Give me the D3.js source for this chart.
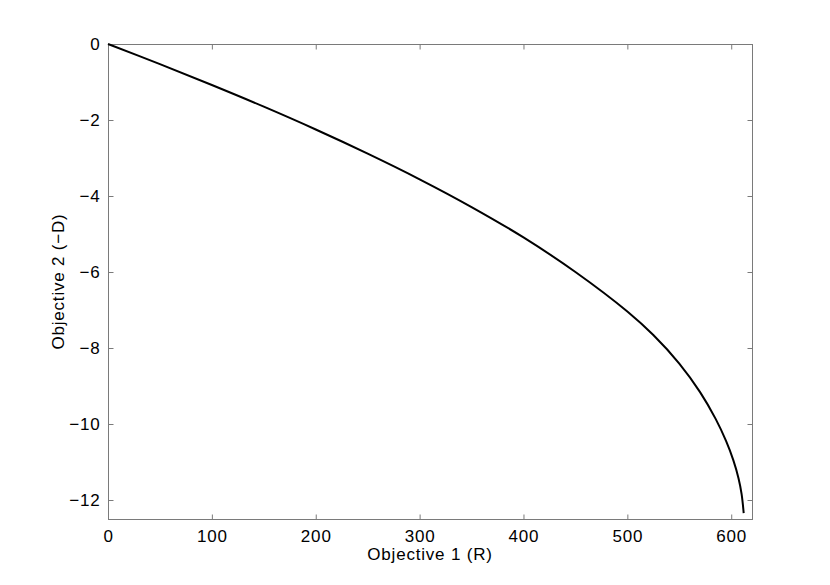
<!DOCTYPE html>
<html>
<head>
<meta charset="utf-8">
<script src="https://cdn.jsdelivr.net/npm/d3@7"></script>
<style>
  body { margin: 0; background: #fff; }
  text { font-family: "Liberation Sans", Arial, sans-serif; }
</style>
</head>
<body>
<svg id="chart" width="830" height="585"></svg>
<script>
// Front de Pareto : Objective 1 (R) contre Objective 2 (-D)
const objR = [0, 50, 100, 150, 200, 250, 300, 350, 400, 450, 500, 525, 550, 570, 585, 595, 602, 607, 610, 612]
const objD = [0, -0.53, -1.08, -1.65, -2.25, -2.885, -3.56, -4.29, -5.09, -6.0, -7.04, -7.66, -8.41, -9.16, -9.865, -10.445, -10.95, -11.425, -11.845, -12.345]
const xTicks = [0, 100, 200, 300, 400, 500, 600]
const yTicks = [0, -2, -4, -6, -8, -10, -12]

const LARGEUR = 830
const HAUTEUR = 585
const marge = { left: 108, right: 830 - 752, top: 44, bottom: 585 - 519 }
const COULEUR_AXE = '#7a7a7a'
const TAILLE_POLICE = 17
const ESPACEMENT = '0.8px'
const LONGUEUR_TICK = 5

const svg = d3.select('#chart')

const x = d3.scaleLinear().domain([0, 620]).range([marge.left, LARGEUR - marge.right])
const y = d3.scaleLinear().domain([-12.5, 0]).range([HAUTEUR - marge.bottom, marge.top])

//Cadre
svg.append('rect')
    .attr('x', x(0) + 0.5).attr('y', y(0) + 0.5)
    .attr('width', x(620) - x(0)).attr('height', y(-12.5) - y(0))
    .attr('fill', 'none').attr('stroke', COULEUR_AXE)

//Axes avec ticks vers l'intérieur, sur les quatre côtés
function styleAxe(g) {
    g.select('.domain').remove()
    g.selectAll('.tick line').attr('stroke', COULEUR_AXE)
    g.selectAll('.tick text').attr('fill', 'black').style('font-size', TAILLE_POLICE + 'px')
        .style('letter-spacing', ESPACEMENT)
        .attr('font-family', '"Liberation Sans", Arial, sans-serif')
}

svg.append('g').attr('transform', 'translate(0,' + (y(-12.5) + 0.5) + ')')
    .call(d3.axisBottom(x).tickValues(xTicks).tickSizeInner(-LONGUEUR_TICK).tickSizeOuter(0).tickPadding(10))
    .call(styleAxe)

svg.append('g').attr('transform', 'translate(0,' + (y(0) + 0.5) + ')')
    .call(d3.axisTop(x).tickValues(xTicks).tickSizeInner(-LONGUEUR_TICK).tickSizeOuter(0).tickFormat(''))
    .call(styleAxe)

svg.append('g').attr('transform', 'translate(' + (x(0) + 0.5) + ',0)')
    .call(d3.axisLeft(y).tickValues(yTicks).tickSizeInner(-LONGUEUR_TICK).tickSizeOuter(0).tickPadding(8)
        .tickFormat(d => d < 0 ? '\u2212' + Math.abs(d) : d))
    .call(styleAxe)

svg.append('g').attr('transform', 'translate(' + (x(620) + 0.5) + ',0)')
    .call(d3.axisRight(y).tickValues(yTicks).tickSizeInner(-LONGUEUR_TICK).tickSizeOuter(0).tickFormat(''))
    .call(styleAxe)

//Courbe
const points = objR.map((r, i) => [r, objD[i]])
const ligne = d3.line().x(d => x(d[0])).y(d => y(d[1])).curve(d3.curveCatmullRom.alpha(0.5))

svg.append('path').datum(points)
    .attr('d', ligne)
    .attr('fill', 'none').attr('stroke', 'black').attr('stroke-width', 2)

//Titres des axes
svg.append('text').text('Objective 1 (R)')
    .attr('x', (x(0) + x(620)) / 2).attr('y', 560)
    .attr('text-anchor', 'middle').style('font-size', TAILLE_POLICE + 'px').style('letter-spacing', ESPACEMENT)

svg.append('text').text('Objective 2 (\u2212D)')
    .attr('transform', 'translate(64,' + ((y(0) + y(-12.5)) / 2) + ') rotate(-90)')
    .attr('text-anchor', 'middle').style('font-size', TAILLE_POLICE + 'px').style('letter-spacing', ESPACEMENT)
</script>
</body>
</html>
